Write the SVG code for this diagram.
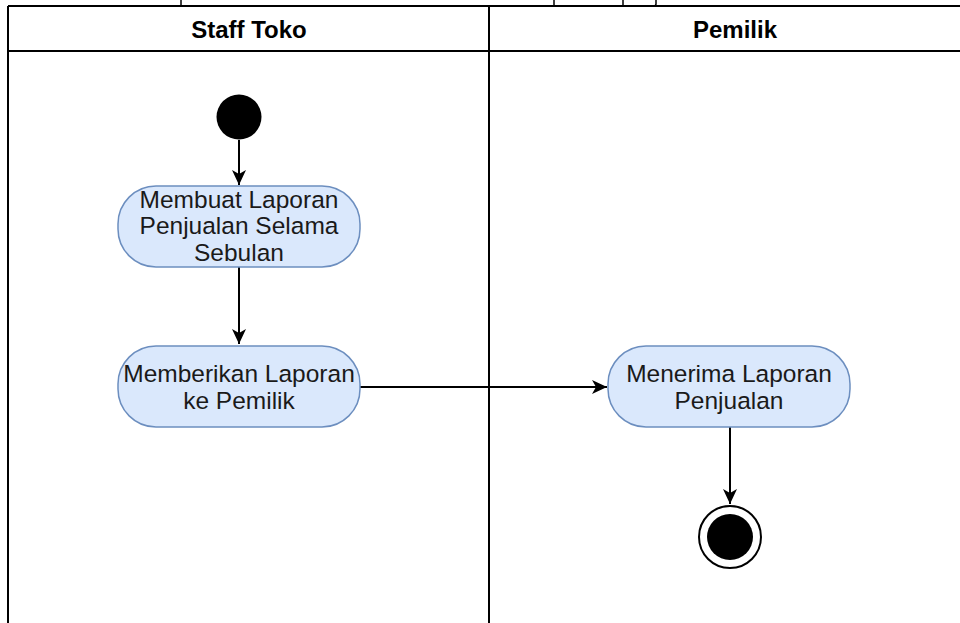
<svg xmlns="http://www.w3.org/2000/svg" width="960" height="623" viewBox="0 0 960 623">
<style>
.lane{fill:none;stroke:#000;stroke-width:2}
.hdr{font-family:"Liberation Sans",Arial,sans-serif;font-weight:bold;font-size:24px;fill:#000;text-anchor:middle}
.act rect{fill:#dae8fc;stroke:#6c8ebf;stroke-width:1.5}
.act text{font-family:"Liberation Sans",Arial,sans-serif;font-size:24.5px;fill:#1a1a1a;text-anchor:middle}
.edge{fill:none;stroke:#000;stroke-width:2}
.frag{stroke:#000;stroke-width:1.5}
</style>
<defs>
<marker id="arr" markerUnits="userSpaceOnUse" markerWidth="16" markerHeight="16" refX="15" refY="8" orient="auto">
<path d="M0,1 L15,8 L0,15 L4,8 Z" fill="#000"/>
</marker>
</defs>
<rect width="960" height="623" fill="#fff"/>
<g id="fragments">
<line class="frag" x1="181" y1="0" x2="181" y2="5"/>
<line class="frag" x1="554" y1="0" x2="554" y2="5"/>
<line class="frag" x1="623" y1="0" x2="623" y2="5"/>
<path class="frag" fill="none" d="M656,0 L656,4 Q656,6 653,6"/>
</g>
<g id="pool">
<line class="lane" x1="8" y1="6" x2="960" y2="6"/>
<line class="lane" x1="8" y1="6" x2="8" y2="623"/>
<line class="lane" x1="8" y1="51" x2="960" y2="51"/>
<line class="lane" x1="489" y1="6" x2="489" y2="623"/>
</g>
<g id="lane-staff"><text class="hdr" x="249" y="38">Staff Toko</text></g>
<g id="lane-pemilik"><text class="hdr" x="735" y="38">Pemilik</text></g>
<g id="edges">
<line class="edge" x1="239" y1="140" x2="239" y2="185" marker-end="url(#arr)"/>
<line class="edge" x1="239" y1="267" x2="239" y2="344" marker-end="url(#arr)"/>
<line class="edge" x1="360" y1="387" x2="607" y2="387" marker-end="url(#arr)"/>
<line class="edge" x1="730" y1="427" x2="730" y2="504" marker-end="url(#arr)"/>
</g>
<g id="start"><circle cx="239" cy="117" r="22.5" fill="#000"/></g>
<g id="act1" class="act">
<rect x="118" y="186" width="242" height="81" rx="38" ry="38"/>
<text x="239" y="207.5">Membuat Laporan</text>
<text x="239" y="234">Penjualan Selama</text>
<text x="239" y="260.5">Sebulan</text>
</g>
<g id="act2" class="act">
<rect x="118" y="346" width="242" height="81" rx="38" ry="38"/>
<text x="239" y="382">Memberikan Laporan</text>
<text x="239" y="408.5">ke Pemilik</text>
</g>
<g id="act3" class="act">
<rect x="608" y="346" width="242" height="81" rx="38" ry="38"/>
<text x="729" y="382">Menerima Laporan</text>
<text x="729" y="408.5">Penjualan</text>
</g>
<g id="end">
<circle cx="730" cy="537" r="31" fill="#fff" stroke="#000" stroke-width="2"/>
<circle cx="730" cy="537" r="23" fill="#000"/>
</g>
</svg>
